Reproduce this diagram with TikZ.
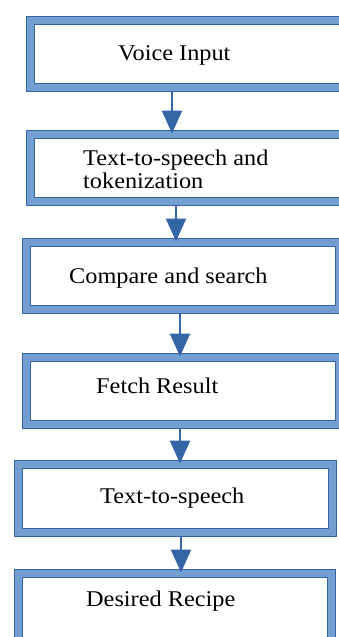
\documentclass[tikz,border=0pt]{standalone}
\usepackage{fontspec}
\setmainfont{Liberation Serif}[FakeStretch=1.08]
\usetikzlibrary{arrows.meta}
\definecolor{frameblue}{HTML}{729FCF}
\definecolor{edgeblue}{HTML}{3465A4}
\begin{document}
\begin{tikzpicture}[x=1pt,y=-1pt,
  box/.style={rectangle, draw=edgeblue, line width=1pt, double=frameblue,
    double distance=7pt, fill=white, anchor=north west, inner sep=0pt},
  lbl/.style={anchor=base west, inner sep=0pt, align=left,
    font=\fontsize{22.5}{23}\selectfont},
  flow/.style={draw=edgeblue, line width=2.5pt, shorten <=4.5pt,
    -{Triangle[width=20pt,length=23pt]}}]
\useasboundingbox (0,0) rectangle (339,637);
\clip (0,0) rectangle (339,637);

% framed process boxes (path runs along the middle of the frame)
\node[box, minimum width=316pt, minimum height=67pt] (b1) at (29.5,19.5) {};
\node[box, minimum width=316pt, minimum height=67pt] (b2) at (29.5,133.5) {};
\node[box, minimum width=313pt, minimum height=67pt] (b3) at (25.5,241.5) {};
\node[box, minimum width=313pt, minimum height=67pt] (b4) at (25.5,356.5) {};
\node[box, minimum width=314pt, minimum height=68pt] (b5) at (17.5,463.5) {};
\node[box, minimum width=313pt, minimum height=68pt] (b6) at (17.5,572.5) {};

% labels (a two-line label sits on the baseline of its last line)
\node[lbl] (t1) at (118,60) {Voice Input};
\node[lbl] (t2) at (83,188) {Text-to-speech and\\tokenization};
\node[lbl] (t3) at (69,283) {Compare and search};
\node[lbl] (t4) at (96,393) {Fetch Result};
\node[lbl] (t5) at (100,503) {Text-to-speech};
\node[lbl] (t6) at (86,606) {Desired Recipe};

% connectors
\draw[flow] (172,0 |- b1.south) -- (172,0 |- b2.north);
\draw[flow] (176,0 |- b2.south) -- (176,0 |- b3.north);
\draw[flow] (180,0 |- b3.south) -- (180,0 |- b4.north);
\draw[flow] (180,0 |- b4.south) -- (180,0 |- b5.north);
\draw[flow] (181,0 |- b5.south) -- (181,0 |- b6.north);
\end{tikzpicture}
\end{document}
